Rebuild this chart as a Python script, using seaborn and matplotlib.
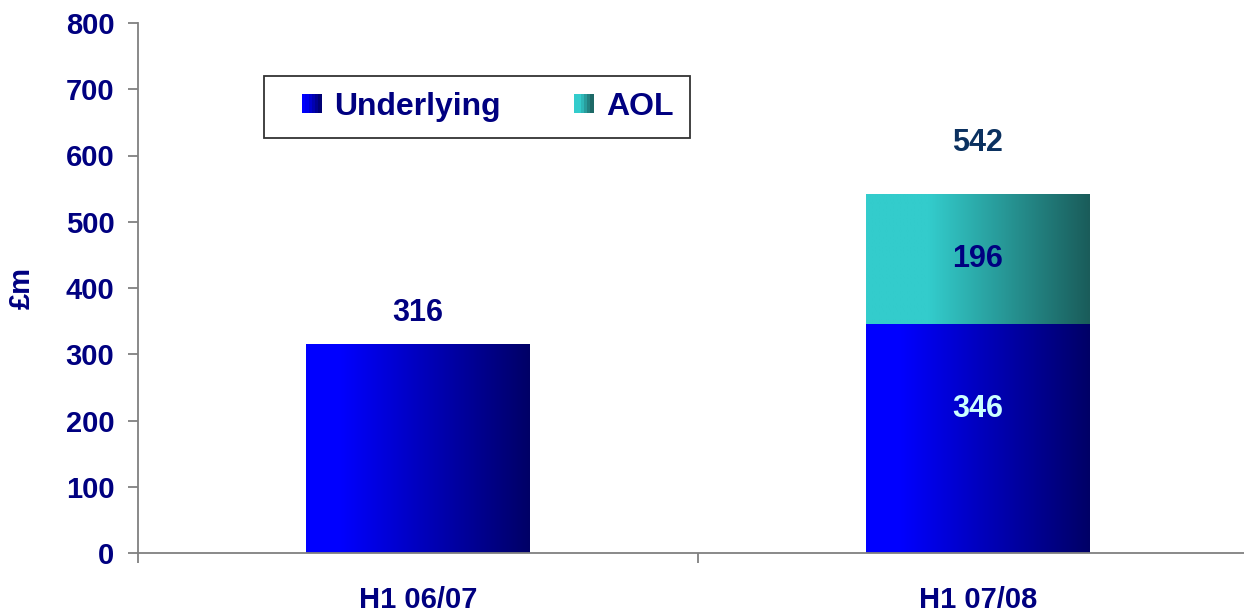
import numpy as np
import pandas as pd
import matplotlib
matplotlib.use("Agg")
import matplotlib.pyplot as plt
import seaborn as sns
from matplotlib.colors import LinearSegmentedColormap
from matplotlib.legend_handler import HandlerBase
from matplotlib.patches import Rectangle, Patch

# ---- data ----
categories = ["H1 06/07", "H1 07/08"]
underlying = [316, 346]
aol = [0, 196]
totals = [316, 542]
series_names = ["Underlying", "AOL"]

# ---- style ----
NAVY = "#000080"
sns.set_theme(style="white")
plt.rcParams["font.family"] = ["Liberation Sans", "DejaVu Sans"]
plt.rcParams["font.weight"] = "bold"

blue_cmap = LinearSegmentedColormap.from_list(
    "blue", [(0, "#0000FF"), (0.15, "#0000FF"), (1, "#000066")])
teal_cmap = LinearSegmentedColormap.from_list(
    "teal", [(0, "#33CCCC"), (0.28, "#33CCCC"), (1, "#1A5C5A")])

fig = plt.figure(figsize=(12.44, 6.16), dpi=100)
ax = fig.add_axes([138 / 1244, 63 / 616, 1120 / 1244, 530 / 616])

df_tot = pd.DataFrame({"cat": categories, "val": totals})
df_und = pd.DataFrame({"cat": categories, "val": underlying})

sns.barplot(data=df_tot, x="cat", y="val", color="#33CCCC", width=0.4,
            ax=ax, errorbar=None, saturation=1)
n_tot = len(ax.patches)
sns.barplot(data=df_und, x="cat", y="val", color="#0000FF", width=0.4,
            ax=ax, errorbar=None, saturation=1)

grad = np.linspace(0, 1, 256).reshape(1, -1)
for i, p in enumerate(ax.patches):
    cmap = teal_cmap if i < n_tot else blue_cmap
    x0, y0 = p.get_x(), p.get_y()
    w, h = p.get_width(), p.get_height()
    if h <= 0:
        continue
    im = ax.imshow(grad, cmap=cmap, aspect="auto",
                   extent=[x0, x0 + w, y0, y0 + h], zorder=p.get_zorder(),
                   interpolation="bilinear")
    im.set_clip_path(p)
    p.set_facecolor("none")
    p.set_edgecolor("none")

ax.set_xlim(-0.5, 1.5)
ax.set_ylim(0, 800)
ax.set_yticks(np.arange(0, 801, 100))

# labels
label_offsets = [47, 77]
for i in range(len(categories)):
    ax.text(i, totals[i] + label_offsets[i], str(totals[i]), ha="center",
            va="center", fontsize=22, fontweight="bold",
            color=NAVY if i == 0 else "#0B3160")
    if aol[i] > 0:
        ax.text(i, underlying[i] + aol[i] / 2, str(aol[i]), ha="center",
                va="center", fontsize=22, fontweight="bold", color=NAVY)
        ax.text(i, underlying[i] * 0.627, str(underlying[i]), ha="center",
                va="center", fontsize=22, fontweight="bold", color="#CCFFFF")

# axes styling
for s in ["top", "right"]:
    ax.spines[s].set_visible(False)
for s in ["left", "bottom"]:
    ax.spines[s].set_color("#808080")
    ax.spines[s].set_linewidth(1.3)

ax.set_xlabel("")
ax.set_ylabel("£m", fontsize=21, fontweight="bold", color=NAVY)
ax.yaxis.set_label_coords(-0.091, 0.5)
ax.tick_params(axis="y", which="major", direction="out", length=7, width=1.3,
               color="#808080", labelsize=21, labelcolor=NAVY, pad=10, left=True)
for t in ax.get_yticklabels():
    t.set_fontweight("bold")
ax.set_xticks([-0.5, 0.5, 1.5], minor=True)
ax.tick_params(axis="x", which="minor", direction="out", length=7, width=1.3,
               color="#808080", bottom=True)
ax.tick_params(axis="x", which="major", length=0, labelsize=21,
               labelcolor=NAVY, pad=24)
for t in ax.get_xticklabels():
    t.set_fontweight("bold")


class GradHandler(HandlerBase):
    def __init__(self, cmap):
        super().__init__()
        self.cmap = cmap

    def create_artists(self, legend, orig_handle, xdescent, ydescent, width,
                       height, fontsize, trans):
        n = 6
        side = height
        left = -xdescent + width - side
        arts = []
        for k in range(n):
            r = Rectangle((left + k * side / n, -ydescent), side / n,
                          side, facecolor=self.cmap((k + 0.5) / n),
                          edgecolor="none", transform=trans)
            arts.append(r)
        return arts


h1 = Patch(label=series_names[0])
h2 = Patch(label=series_names[1])
leg = ax.legend(handles=[h1, h2], labels=series_names, ncol=2,
                handler_map={h1: GradHandler(blue_cmap), h2: GradHandler(teal_cmap)},
                loc="upper left", bbox_to_anchor=(264 / 1244, 1 - 76 / 616),
                bbox_transform=fig.transFigure,
                frameon=True, fancybox=False, edgecolor="black",
                prop={"size": 23, "weight": "bold"},
                handlelength=1.3, handleheight=0.56, handletextpad=0.4,
                columnspacing=1.6, borderpad=0.5, borderaxespad=0)
leg.get_frame().set_linewidth(1.3)
for t in leg.get_texts():
    t.set_color(NAVY)

fig.savefig("out.png", dpi=100)
